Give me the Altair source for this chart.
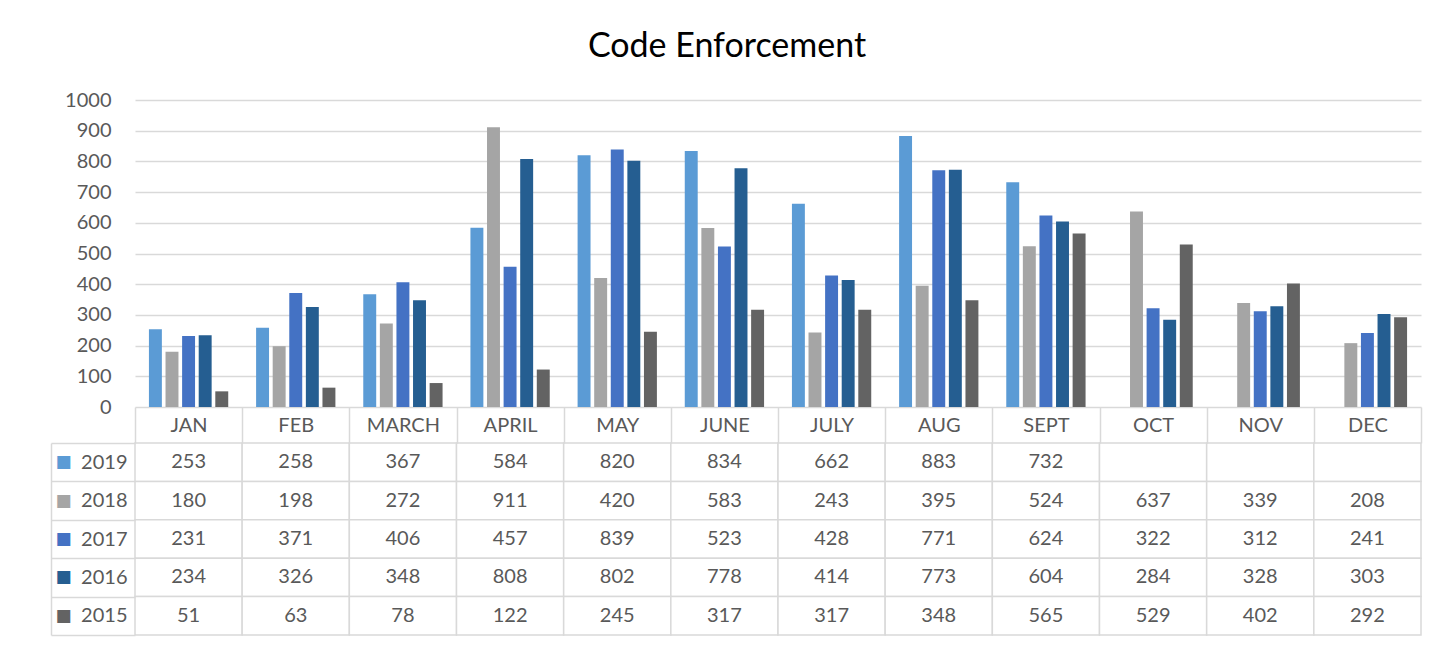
import altair as alt
import pandas as pd

months = ["JAN", "FEB", "MARCH", "APRIL", "MAY", "JUNE", "JULY", "AUG", "SEPT", "OCT", "NOV", "DEC"]
years = ["2019", "2018", "2017", "2016", "2015"]
v2019 = [253, 258, 367, 584, 820, 834, 662, 883, 732, None, None, None]
v2018 = [180, 198, 272, 911, 420, 583, 243, 395, 524, 637, 339, 208]
v2017 = [231, 371, 406, 457, 839, 523, 428, 771, 624, 322, 312, 241]
v2016 = [234, 326, 348, 808, 802, 778, 414, 773, 604, 284, 328, 303]
v2015 = [51, 63, 78, 122, 245, 317, 317, 348, 565, 529, 402, 292]
colors = ["#5b9bd5", "#a5a5a5", "#4472c4", "#255e91", "#636363"]
y_ticks = [0, 100, 200, 300, 400, 500, 600, 700, 800, 900, 1000]

series = {"2019": v2019, "2018": v2018, "2017": v2017, "2016": v2016, "2015": v2015}
rows = []
for yr in years:
    for m, v in zip(months, series[yr]):
        rows.append({"month": m, "year": yr, "value": v})
df = pd.DataFrame(rows)

FONT = "Lato"
TXT = "#595959"
GRID = "#d9d9d9"

bars = alt.Chart(df).transform_filter("isValid(datum.value)").mark_bar().encode(
    x=alt.X("month:N", sort=months,
            scale=alt.Scale(domain=months, paddingInner=0.26, paddingOuter=0.13),
            axis=None),
    xOffset=alt.XOffset("year:N", scale=alt.Scale(domain=years, paddingInner=0.22, paddingOuter=0)),
    y=alt.Y("value:Q", scale=alt.Scale(domain=[0, 1000]),
            axis=alt.Axis(values=y_ticks, format="d", title=None, domain=False, ticks=False,
                          labelPadding=24, gridColor=GRID, gridWidth=1.5, labelFont=FONT,
                          labelFontSize=20, labelColor=TXT)),
    color=alt.Color("year:N", scale=alt.Scale(domain=years, range=colors), legend=None),
).properties(width=1286, height=307)

base = alt.Chart(df)
xs = alt.Scale(domain=months, paddingInner=0, paddingOuter=0)
ys = alt.Scale(domain=years, paddingInner=0, paddingOuter=0)

x_table_axis = alt.Axis(orient="top", title=None, domain=False, ticks=True, tickBand="extent",
                        tickSize=36, tickColor=GRID, tickWidth=1.5, labelPadding=-18,
                        labelBaseline="middle", labelFont=FONT, labelFontSize=20,
                        labelColor=TXT, labelAngle=0, grid=False)

key_color = {
    "condition": [
        {"test": "datum.value == '2019'", "value": colors[0]},
        {"test": "datum.value == '2018'", "value": colors[1]},
        {"test": "datum.value == '2017'", "value": colors[2]},
        {"test": "datum.value == '2016'", "value": colors[3]},
    ],
    "value": colors[4],
}

keys = base.mark_rect(opacity=0).encode(
    x=alt.X("month:N", sort=months, scale=xs, axis=x_table_axis),
    y=alt.Y("year:N", sort=years, scale=ys,
            axis=alt.Axis(orient="left", offset=84, title=None, domain=True, domainColor=GRID,
                          domainWidth=1.5, ticks=False, labelExpr="'■'", labelAlign="left",
                          labelPadding=-4, labelFont="DejaVu Sans", labelFontSize=17,
                          labelColor=key_color, grid=False)),
)

cells = base.mark_rect(fill="white", stroke=GRID, strokeWidth=1.5).encode(
    x=alt.X("month:N", sort=months, scale=xs, axis=x_table_axis),
    y=alt.Y("year:N", sort=years, scale=ys,
            axis=alt.Axis(orient="left", title=None, domain=False, tickBand="extent", tickSize=84,
                          tickColor=GRID, tickWidth=1.5, labelPadding=-76, labelFont=FONT,
                          labelFontSize=20, labelColor=TXT, grid=False)),
)

texts = base.transform_filter("isValid(datum.value)").mark_text(
    font=FONT, fontSize=20, color=TXT
).encode(
    x=alt.X("month:N", sort=months, scale=xs, axis=x_table_axis),
    y=alt.Y("year:N", sort=years, scale=ys, axis=None),
    text=alt.Text("value:Q", format="d"),
)

table = alt.layer(keys, cells, texts).resolve_axis(y="independent").properties(width=1286, height=192)

chart = alt.vconcat(bars, table, spacing=36, bounds="flush").properties(
    title=alt.TitleParams("Code Enforcement", anchor="middle", font=FONT, fontSize=34,
                          fontWeight="normal", color="#000000", offset=26, dx=-9),
    padding={"left": 42, "top": 22, "right": 10, "bottom": 5},
).configure_view(strokeWidth=0)

chart.save("out.html", embed_options={"renderer": "svg", "actions": False})
